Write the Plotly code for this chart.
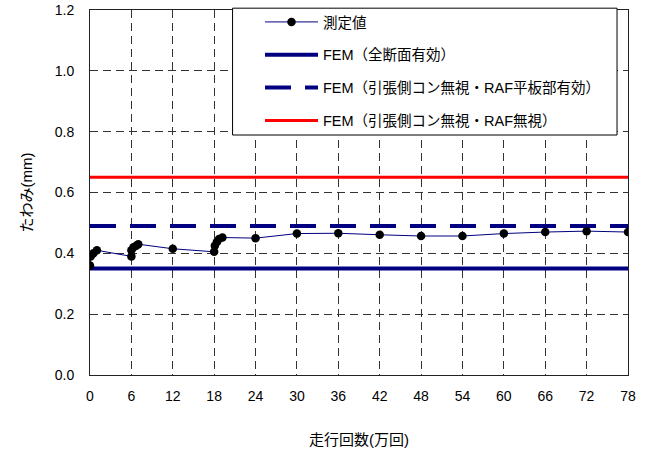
import plotly.graph_objects as go

# 走行回数 (万回) and measured deflection (mm)
runs = [0, 0.1, 0.5, 1.0, 6.0, 6.0, 6.3, 6.7, 7.0, 12.0, 18.0, 18.1, 18.4, 18.7, 19.2,
        24, 30, 36, 42, 48, 54, 60, 66, 72, 78]
deflection = [0.36, 0.39, 0.40, 0.41, 0.39, 0.41, 0.42, 0.425, 0.43, 0.415, 0.405, 0.425,
              0.437, 0.447, 0.452, 0.45, 0.465, 0.466, 0.461, 0.457, 0.457, 0.465, 0.47,
              0.473, 0.47]

# FEM reference values (mm)
fem_full = 0.35
fem_raf_plate = 0.49
fem_raf_ignored = 0.65

x_span = [0, 78]
x_ticks = list(range(0, 79, 6))
y_ticks = [0.0, 0.2, 0.4, 0.6, 0.8, 1.0, 1.2]

NAVY = "#000080"
FONT = "Liberation Sans, Noto Sans CJK JP, sans-serif"

fig = go.Figure()

fig.add_trace(go.Scatter(
    x=x_span, y=[fem_raf_ignored] * 2, mode="lines",
    line=dict(color="#ff0000", width=3),
    name="FEM（引張側コン無視・RAF無視）", legendgroup="d", legendrank=4))
fig.add_trace(go.Scatter(
    x=x_span, y=[fem_raf_plate] * 2, mode="lines",
    line=dict(color=NAVY, width=4, dash="26px,14px"),
    name="FEM（引張側コン無視・RAF平板部有効）", legendgroup="c", legendrank=3))
fig.add_trace(go.Scatter(
    x=x_span, y=[fem_full] * 2, mode="lines",
    line=dict(color=NAVY, width=4),
    name="FEM（全断面有効）", legendgroup="b", legendrank=2))
fig.add_trace(go.Scatter(
    x=runs, y=deflection, mode="lines+markers",
    line=dict(color=NAVY, width=1),
    marker=dict(color="black", size=8.5),
    name="測定値", legendgroup="a", legendrank=1))

# legend frame (white box covering the grid)
fig.add_shape(type="rect", xref="paper", yref="paper",
              x0=0.265, x1=0.9796, y0=0.6575, y1=1.005,
              fillcolor="white", line=dict(color="black", width=1), layer="above")

axis_common = dict(
    showgrid=True, griddash="8px,5px", gridcolor="#333333", gridwidth=1,
    showline=True, linecolor="#222222", linewidth=1, mirror=True,
    ticks="", zeroline=False, automargin=False,
    tickfont=dict(family=FONT, size=14, color="black"),
)

fig.update_xaxes(
    range=[0, 78], tickvals=x_ticks, ticklabelstandoff=8,
    title=dict(text="走行回数(万回)", font=dict(family=FONT, size=15, color="black"),
               standoff=31),
    **axis_common)
fig.update_yaxes(
    range=[0, 1.2], tickvals=y_ticks, tickformat=".1f", ticklabelstandoff=12,
    title=dict(text="たわみ(mm)", font=dict(family=FONT, size=15, color="black"),
               standoff=18),
    **axis_common)

fig.update_layout(
    width=651, height=452,
    margin=dict(l=90, r=23, t=10, b=77, autoexpand=False),
    paper_bgcolor="white", plot_bgcolor="white",
    font=dict(family=FONT, color="black"),
    legend=dict(
        x=0.316, y=1.011, xanchor="left", yanchor="top",
        bgcolor="rgba(0,0,0,0)", borderwidth=0,
        font=dict(family=FONT, size=14.5, color="black"),
        tracegroupgap=11, itemwidth=53,
    ),
    showlegend=True,
)

fig.write_html("out.html")
